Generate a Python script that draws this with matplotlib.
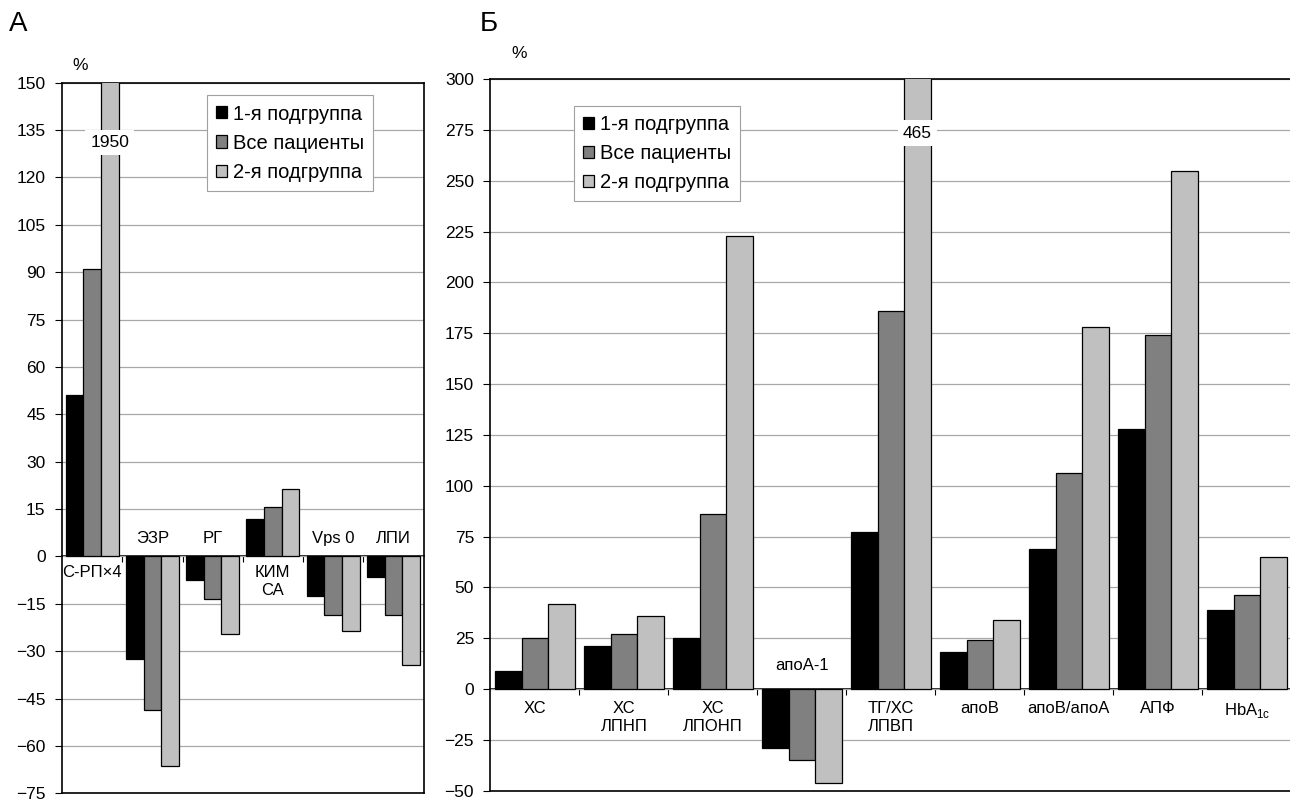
import matplotlib.pyplot as plt
import numpy as np
from matplotlib.patches import Patch

plt.rcParams['font.family'] = ['Liberation Sans', 'DejaVu Sans']
plt.rcParams['mathtext.fontset'] = 'custom'
plt.rcParams['mathtext.rm'] = 'Liberation Sans'

# Series
series_names = ['1-я подгруппа', 'Все пациенты', '2-я подгруппа']
series_colors = ['#000000', '#808080', '#c0c0c0']

# Panel A data (% change)
cats_a = ['С-РП×4', 'ЭЗР', 'РГ', 'КИМ\nСА', 'Vps 0', 'ЛПИ']
sub1_a = [51, -32.5, -7.5, 12, -12.5, -6.5]
all_a = [91, -48.5, -13.5, 15.5, -18.5, -18.5]
sub2_a = [1950, -66.5, -24.5, 21.5, -23.5, -34.5]

# Panel B data (% change)
cats_b = ['ХС', 'ХС\nЛПНП', 'ХС\nЛПОНП', 'апоА-1', 'ТГ/ХС\nЛПВП', 'апоВ',
          'апоВ/апоА', 'АПФ', r'HbA$_{\mathregular{1c}}$']
sub1_b = [9, 21, 25, -29, 77, 18, 69, 128, 39]
all_b = [25, 27, 86, -35, 186, 24, 106, 174, 46]
sub2_b = [42, 36, 223, -46, 465, 34, 178, 255, 65]


# Function to draw one grouped bar panel
def draw_panel(ax, cats, values, ylim, step, width, label_offsets, clip_offset, legend_anchor):
    x = np.arange(len(cats))

    # Bars of the three series
    for i, (vals, color) in enumerate(zip(values, series_colors)):
        ax.bar(x + (i - 1) * width, vals, width, color=color,
               edgecolor='black', linewidth=0.9, zorder=3)

    ax.set_xlim(-0.5, len(cats) - 0.5)
    ax.set_ylim(*ylim)
    ax.set_yticks(np.arange(ylim[0], ylim[1] + step, step))
    ax.yaxis.grid(True, color='#a8a8a8', linewidth=0.9)
    ax.set_axisbelow(True)
    ax.set_xticks([])
    ax.tick_params(axis='y', direction='out', length=4.8, width=0.8, pad=7, labelsize=12.5)
    for s in ax.spines.values():
        s.set_linewidth(1.2)

    # Category axis crossing at zero
    zero_pos = (0 - ylim[0]) / (ylim[1] - ylim[0])
    sec = ax.secondary_xaxis(zero_pos)
    sec.set_xticks(x[:-1] + 0.5)
    sec.set_xticklabels([])
    sec.tick_params(direction='out', length=4, width=0.8)
    sec.spines['bottom'].set_linewidth(1.2)

    # Category labels on the side opposite the bars
    below_off, above_off = label_offsets
    for xi, cat, v in zip(x, cats, values[0]):
        if v < 0:
            ax.annotate(cat, (xi, 0), xytext=(0, above_off), textcoords='offset points',
                        ha='center', va='baseline', fontsize=12, linespacing=1.25)
        else:
            ax.annotate(cat, (xi, 0), xytext=(0, -below_off), textcoords='offset points',
                        ha='center', va='top', fontsize=12, linespacing=1.25)

    # Values of bars that run off the top of the axis
    for i, vals in enumerate(values):
        for xi, v in zip(x, vals):
            if v > ylim[1]:
                ax.annotate(str(v), (xi + (i - 1) * width, ylim[1]), xytext=(0, -clip_offset),
                            textcoords='offset points', ha='center', va='center', fontsize=12.5,
                            bbox=dict(boxstyle='square,pad=0.3', fc='white', ec='none'),
                            zorder=5)

    # Legend
    handles = [Patch(facecolor=c, edgecolor='black', linewidth=0.9) for c in series_colors]
    leg = ax.legend(handles, series_names, loc='upper left', bbox_to_anchor=legend_anchor,
                    borderaxespad=0, fancybox=False, framealpha=1, edgecolor='#a0a0a0',
                    fontsize=14.5, handlelength=0.55, handleheight=0.55, handletextpad=0.3,
                    labelspacing=0.5, borderpad=0.45)
    leg.get_frame().set_linewidth(0.8)


fig = plt.figure(figsize=(12.9, 8.01), dpi=100)
W, H = 1290, 801

ax_a = fig.add_axes([62 / W, (H - 793.3) / H, (423.5 - 62) / W, (793.3 - 82.7) / H])
draw_panel(ax_a, cats_a, [sub1_a, all_a, sub2_a], (-75, 150), 15, 0.293,
           (6.5, 9.5), 43, (0.400, 0.982))

ax_b = fig.add_axes([490.4 / W, (H - 790.7) / H, 801 / W, (790.7 - 79) / H])
draw_panel(ax_b, cats_b, [sub1_b, all_b, sub2_b], (-50, 300), 25, 0.298,
           (8.5, 13.5), 39, (0.104, 0.9625))

# Panel letters and unit labels
fig.text(9 / W, 1 - 24 / H, 'А', fontsize=20, ha='left', va='center')
fig.text(480 / W, 1 - 24 / H, 'Б', fontsize=20, ha='left', va='center')
fig.text(80 / W, 1 - 65 / H, '%', fontsize=12.5, ha='center', va='center')
fig.text(519 / W, 1 - 53 / H, '%', fontsize=12.5, ha='center', va='center')

plt.savefig('out.png', dpi=100)
